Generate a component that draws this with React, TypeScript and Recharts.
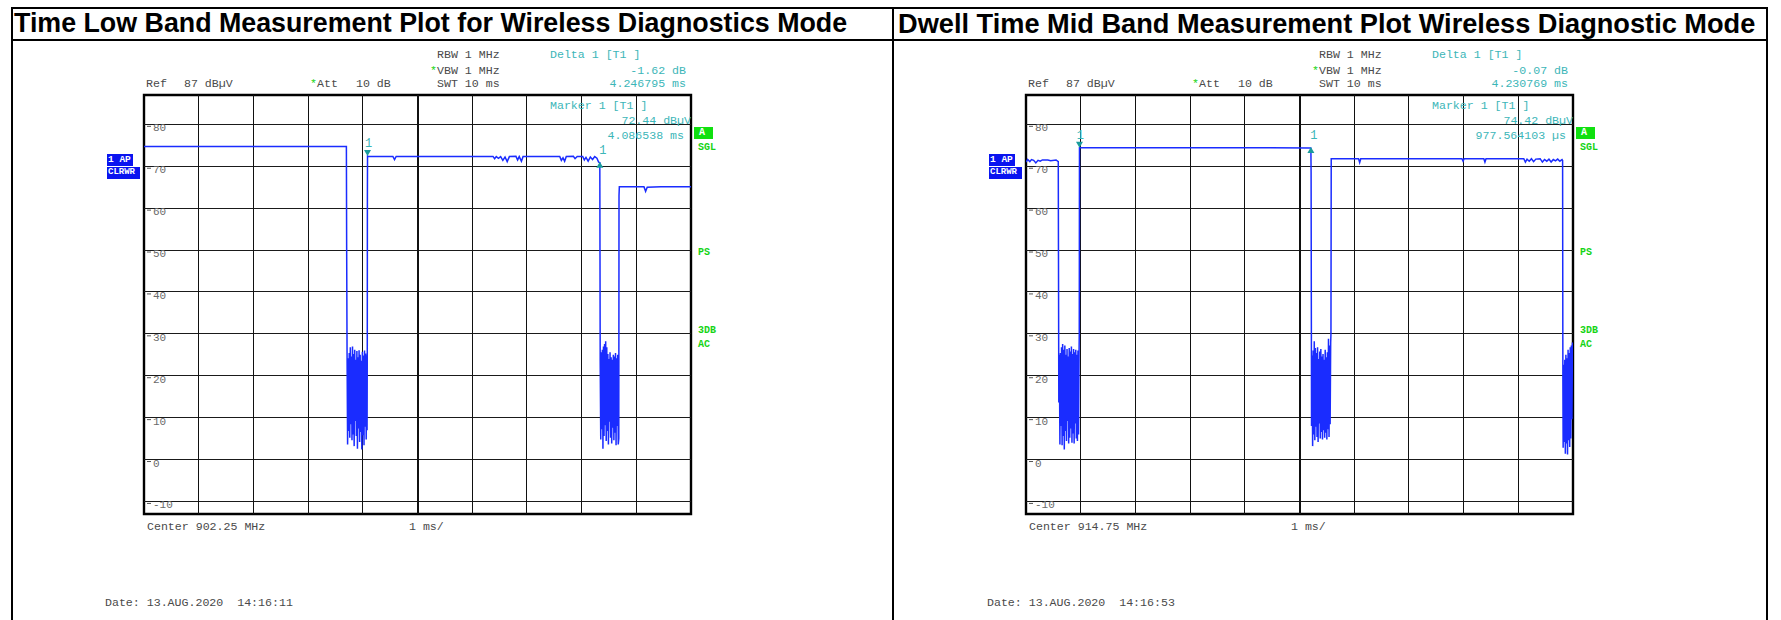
import { LineChart, Line, XAxis, YAxis, ReferenceLine, ReferenceArea, ReferenceDot } from 'recharts';

// sweep: 10 ms, 1 ms/div; level: ref 87 dBµV, 10 dB/div
const timeTicks = [0, 1, 2, 3, 4, 5, 6, 7, 8, 9, 10];
const levelTicks = [80, 70, 60, 50, 40, 30, 20, 10, 0, -10];
const refLevel = 87;
const bottomLevel = -13;

// [ms, dBµV]
const lowBandTrace: [number, number][] = [
  [0, 74.7], [3.7, 74.7], [3.705, 50.5],
  [3.712, 26.0], [3.722, 3.6], [3.732, 24.2], [3.742, 6.8], [3.752, 25.4], [3.762, 5.2],
  [3.772, 26.8], [3.782, 8.4], [3.792, 24.6], [3.802, 4.6], [3.812, 27.0], [3.822, 6.0],
  [3.832, 25.2], [3.842, 3.2], [3.852, 26.2], [3.862, 9.2], [3.872, 23.8], [3.882, 5.6],
  [3.892, 25.9], [3.902, 2.6], [3.912, 24.4], [3.922, 7.4], [3.932, 26.1], [3.942, 4.2],
  [3.952, 25.0], [3.962, 6.6], [3.972, 23.6], [3.982, 2.4], [3.992, 25.7], [4.002, 5.8],
  [4.012, 24.8], [4.022, 3.4], [4.032, 26.0], [4.042, 7.8], [4.052, 25.3], [4.062, 4.8],
  [4.072, 24.9], [4.078, 7.0], [4.082, 26.0], [4.084, 63.0], [4.0865, 72.44],
  [4.1, 72.35], [4.55, 72.35], [4.58, 71.6], [4.61, 72.35], [5.2, 72.35], [6.38, 72.35],
  [6.41, 71.8], [6.44, 72.3], [6.48, 71.9], [6.52, 72.3], [6.56, 71.4], [6.6, 72.2],
  [6.64, 71.1], [6.68, 72.3], [6.8, 72.35], [6.83, 71.5], [6.86, 72.3], [6.9, 71.2],
  [6.93, 72.35], [7.6, 72.35], [7.63, 71.4], [7.66, 72.0], [7.69, 71.2], [7.72, 72.3],
  [7.85, 72.35], [7.88, 71.8], [7.92, 72.35], [8.02, 72.35], [8.05, 71.5], [8.08, 72.1],
  [8.12, 71.2], [8.16, 72.2], [8.2, 71.6], [8.24, 72.3], [8.28, 71.9], [8.31, 71.0],
  [8.333, 70.82],
  [8.34, 23.4], [8.35, 4.8], [8.36, 25.6], [8.37, 7.2], [8.38, 26.2], [8.39, 2.6],
  [8.4, 27.0], [8.41, 5.6], [8.42, 27.6], [8.43, 8.2], [8.44, 28.2], [8.45, 4.4],
  [8.46, 26.8], [8.47, 6.8], [8.48, 25.2], [8.49, 3.6], [8.5, 24.0], [8.51, 9.0],
  [8.52, 25.6], [8.53, 5.2], [8.54, 24.4], [8.55, 3.8], [8.56, 23.8], [8.57, 7.6],
  [8.58, 25.0], [8.59, 4.6], [8.6, 24.6], [8.61, 6.4], [8.62, 25.4], [8.63, 3.4],
  [8.64, 24.2], [8.65, 8.0], [8.66, 25.0], [8.67, 3.6], [8.68, 5.0],
  [8.684, 63.0], [8.69, 65.1], [9.14, 65.1], [9.17, 64.0], [9.2, 65.0], [9.45, 65.1], [10, 65.1],
];

// [ms, dBµV]
const midBandTrace: [number, number][] = [
  [0, 71.0], [0.03, 71.6], [0.07, 71.1], [0.1, 71.6], [0.14, 71.4], [0.18, 70.8],
  [0.22, 71.4], [0.26, 71.2], [0.3, 71.5], [0.4, 71.5], [0.45, 71.3], [0.55, 71.5],
  [0.59, 71.1],
  [0.6, 13.6], [0.61, 25.0], [0.62, 3.6], [0.63, 25.4], [0.64, 8.0], [0.65, 26.8],
  [0.66, 3.4], [0.67, 27.6], [0.68, 5.6], [0.69, 26.2], [0.7, 2.4], [0.71, 27.2],
  [0.72, 6.8], [0.73, 25.0], [0.74, 4.4], [0.75, 26.4], [0.76, 9.2], [0.77, 24.6],
  [0.78, 3.8], [0.79, 26.6], [0.8, 5.2], [0.81, 25.8], [0.82, 7.4], [0.83, 27.0],
  [0.84, 4.0], [0.85, 25.2], [0.86, 6.2], [0.87, 26.4], [0.88, 3.8], [0.89, 25.6],
  [0.9, 8.6], [0.91, 26.2], [0.92, 5.0], [0.93, 25.0], [0.94, 4.4], [0.95, 26.0],
  [0.96, 6.0], [0.97, 25.4], [0.974, 30.0],
  [0.9776, 74.42], [1.0, 74.4], [5.2, 74.38], [5.208, 74.35], [5.212, 68.5],
  [5.22, 8.0], [5.23, 24.8], [5.24, 3.2], [5.25, 26.0], [5.26, 6.0], [5.27, 28.2],
  [5.28, 4.6], [5.29, 26.6], [5.3, 7.8], [5.31, 25.4], [5.32, 5.4], [5.33, 26.8],
  [5.34, 4.2], [5.35, 24.0], [5.36, 8.6], [5.37, 25.8], [5.38, 5.0], [5.39, 26.4],
  [5.4, 6.6], [5.41, 24.6], [5.42, 4.8], [5.43, 25.2], [5.44, 7.0], [5.45, 23.8],
  [5.46, 5.2], [5.47, 26.2], [5.48, 6.4], [5.49, 24.4], [5.5, 4.8], [5.51, 25.6],
  [5.52, 7.2], [5.53, 28.8], [5.54, 5.4], [5.55, 27.2], [5.56, 8.4], [5.57, 27.8],
  [5.575, 30.0],
  [5.58, 71.8], [6.08, 71.8], [6.1, 70.9], [6.12, 71.8], [7.97, 71.8], [7.99, 71.2],
  [8.01, 71.8], [8.37, 71.8], [8.39, 71.0], [8.41, 71.8], [9.1, 71.8], [9.13, 71.0],
  [9.16, 71.7], [9.2, 71.2], [9.24, 71.8], [9.28, 71.1], [9.32, 71.7], [9.4, 71.8],
  [9.44, 71.0], [9.48, 71.6], [9.52, 71.2], [9.56, 71.7], [9.6, 71.0], [9.64, 71.6],
  [9.68, 71.3], [9.72, 71.7], [9.76, 71.2], [9.8, 71.6], [9.81, 71.4],
  [9.815, 19.0], [9.82, 2.8], [9.83, 22.6], [9.84, 4.2], [9.85, 23.8], [9.86, 1.4],
  [9.87, 25.0], [9.88, 3.8], [9.89, 24.2], [9.9, 1.2], [9.91, 26.2], [9.92, 4.6],
  [9.93, 25.4], [9.94, 3.0], [9.95, 26.8], [9.96, 5.0], [9.97, 27.2], [9.98, 9.6],
  [9.99, 27.9], [10, 24.0],
];

const lowBandMarker: [number, number] = [4.086538, 72.44];
const lowBandDelta: [number, number] = [8.333333, 70.82];
const midBandMarker: [number, number] = [0.977564, 74.42];
const midBandDelta: [number, number] = [5.208333, 74.35];

const PLOT_LEFT = 144;
const PLOT_TOP = 95;
const PLOT_W = 547;
const PLOT_H = 419;
const PAD = 6;

const MONO = "'Liberation Mono', 'DejaVu Sans Mono', monospace";
const TEAL = '#3cb6b8';
const GREEN = '#16d416';
const GRAY = '#4a4a4a';

function LevelTick(props: any) {
  const { x, y, payload } = props;
  return (
    <g>
      <line x1={x + 3} x2={x + 7} y1={y + 2} y2={y + 2} stroke="#555" strokeWidth={1} />
      <text x={x + 9} y={y + 7} fill="#6a6a6a" fontSize={11} fontFamily={MONO} textAnchor="start">
        {payload.value}
      </text>
    </g>
  );
}

function MarkerGlyph(props: any) {
  const { cx, cy, down } = props;
  const tri = down
    ? `${cx - 3.5},${cy - 6} ${cx + 3.5},${cy - 6} ${cx},${cy}`
    : `${cx - 3.5},${cy + 5} ${cx + 3.5},${cy + 5} ${cx},${cy - 1}`;
  return (
    <g>
      <polygon points={tri} fill="#1a9c9c" />
      <text x={cx + (down ? 1 : 3)} y={cy - 9} fill={TEAL} fontSize={12} fontFamily={MONO} textAnchor="middle">
        1
      </text>
    </g>
  );
}

function TracePlot({ trace, marker, delta }: { trace: [number, number][]; marker: [number, number]; delta: [number, number] }) {
  const data = trace.map(([t, v]) => ({ t, v }));
  return (
    <LineChart
      width={PLOT_W + PAD * 2}
      height={PLOT_H + PAD * 2}
      data={data}
      margin={{ top: PAD, right: PAD, bottom: PAD, left: PAD - 1 }}
    >
      <XAxis type="number" dataKey="t" domain={[0, 10]} ticks={timeTicks} hide allowDataOverflow />
      <YAxis
        type="number"
        domain={[bottomLevel, refLevel]}
        ticks={levelTicks}
        width={1}
        axisLine={false}
        tickLine={false}
        tickSize={0}
        tickMargin={0}
        interval={0}
        tick={<LevelTick />}
        allowDataOverflow
      />
      {levelTicks.map((v) => (
        <ReferenceLine key={'h' + v} y={v} stroke="#1a1a1a" strokeWidth={1} shapeRendering="crispEdges" />
      ))}
      {timeTicks.slice(1, -1).map((t) => (
        <ReferenceLine
          key={'v' + t}
          x={t}
          stroke="#111"
          strokeWidth={t === 5 ? 2 : 1}
          shapeRendering="crispEdges"
        />
      ))}
      <ReferenceArea
        x1={0}
        x2={10}
        y1={bottomLevel}
        y2={refLevel}
        fill="none"
        fillOpacity={0}
        stroke="#000"
        strokeWidth={2.4}
      />
      <Line type="linear" dataKey="v" stroke="#1a2cff" strokeWidth={1.5} dot={false} isAnimationActive={false} />
      <ReferenceDot x={marker[0]} y={marker[1]} r={0} shape={(p: any) => <MarkerGlyph {...p} down />} />
      <ReferenceDot x={delta[0]} y={delta[1]} r={0} shape={(p: any) => <MarkerGlyph {...p} />} />
    </LineChart>
  );
}

function Txt({ x, y, children, color = GRAY, right = false, size = 11.6, bold = false, family = MONO }: any) {
  return (
    <div
      style={{
        position: 'absolute',
        left: x,
        top: y - 6,
        transform: right ? 'translateX(-100%)' : undefined,
        whiteSpace: 'pre',
        fontFamily: family,
        fontSize: size,
        lineHeight: `${size}px`,
        fontWeight: bold ? 700 : 400,
        color,
      }}
    >
      {children}
    </div>
  );
}

function Panel({ dx, center, date, deltaDb, deltaTime, markerLevel, markerTime, trace, marker, delta }: any) {
  return (
    <>
      <Txt x={dx + 146} y={84}>Ref</Txt>
      <Txt x={dx + 184} y={84}>87 dBµV</Txt>
      <Txt x={dx + 310} y={84} color={GREEN}>*</Txt>
      <Txt x={dx + 317} y={84}>Att</Txt>
      <Txt x={dx + 356} y={84}>10 dB</Txt>
      <Txt x={dx + 437} y={55}>RBW 1 MHz</Txt>
      <Txt x={dx + 430} y={70.5} color={GREEN}>*</Txt>
      <Txt x={dx + 437} y={70.5}>VBW 1 MHz</Txt>
      <Txt x={dx + 437} y={84}>SWT 10 ms</Txt>
      <Txt x={dx + 550} y={55} color={TEAL}>Delta 1 [T1 ]</Txt>
      <Txt x={dx + 686} y={70.5} color={TEAL} right>{deltaDb}</Txt>
      <Txt x={dx + 686} y={84} color={TEAL} right>{deltaTime}</Txt>
      <div style={{ position: 'absolute', left: dx + PLOT_LEFT - PAD, top: PLOT_TOP - PAD }}>
        <TracePlot trace={trace} marker={marker} delta={delta} />
      </div>
      <Txt x={dx + 550} y={106} color={TEAL}>Marker 1 [T1 ]</Txt>
      <Txt x={dx + 691} y={121} color={TEAL} right>{markerLevel}</Txt>
      <Txt x={dx + 684} y={135.5} color={TEAL} right>{markerTime}</Txt>
      <Txt x={dx + 147} y={527}>{center}</Txt>
      <Txt x={dx + 409} y={527}>1 ms/</Txt>
      <Txt x={dx + 105} y={603}>{date}</Txt>
      <div style={{ position: 'absolute', left: dx + 107, top: 154, width: 26, height: 12, background: '#0a14f0' }} />
      <div style={{ position: 'absolute', left: dx + 107, top: 167, width: 33, height: 12, background: '#0a14f0' }} />
      <Txt x={dx + 108} y={160.5} color="#fff" size={9.5} bold>1 AP</Txt>
      <Txt x={dx + 108} y={173.5} color="#fff" size={9} bold>CLRWR</Txt>
      <div style={{ position: 'absolute', left: dx + 694, top: 127, width: 19, height: 12, background: '#10e010' }} />
      <Txt x={dx + 699} y={133.5} color="#fff" size={10} bold>A</Txt>
      <Txt x={dx + 698} y={149} color={GREEN} size={10} bold>SGL</Txt>
      <Txt x={dx + 698} y={254} color={GREEN} size={10} bold>PS</Txt>
      <Txt x={dx + 698} y={332} color={GREEN} size={10} bold>3DB</Txt>
      <Txt x={dx + 698} y={346} color={GREEN} size={10} bold>AC</Txt>
    </>
  );
}

const rule = (l: number, t: number, w: number, h: number) => (
  <div style={{ position: 'absolute', left: l, top: t, width: w, height: h, background: '#000' }} />
);

export default function App() {
  return (
    <div style={{ position: 'absolute', left: 0, top: 0, width: 1781, height: 620, background: '#fff', overflow: 'hidden' }}>
      {rule(11, 7, 1757, 2)}
      {rule(11, 39, 1757, 2)}
      {rule(11, 7, 2, 613)}
      {rule(892, 7, 2, 613)}
      {rule(1766, 7, 2, 613)}
      <div
        style={{
          position: 'absolute',
          left: 14,
          top: 10,
          fontFamily: "'Liberation Sans', Arial, sans-serif",
          fontWeight: 700,
          fontSize: 26.8,
          lineHeight: '26.8px',
          whiteSpace: 'nowrap',
        }}
      >
        Time Low Band Measurement Plot for Wireless Diagnostics Mode
      </div>
      <div
        style={{
          position: 'absolute',
          left: 898,
          top: 10,
          fontFamily: "'Liberation Sans', Arial, sans-serif",
          fontWeight: 700,
          fontSize: 27.2,
          lineHeight: '27.2px',
          whiteSpace: 'nowrap',
        }}
      >
        Dwell Time Mid Band Measurement Plot Wireless Diagnostic Mode
      </div>
      <Panel
        dx={0}
        center="Center 902.25 MHz"
        date="Date: 13.AUG.2020  14:16:11"
        deltaDb="-1.62 dB"
        deltaTime="4.246795 ms"
        markerLevel="72.44 dBµV"
        markerTime="4.086538 ms"
        trace={lowBandTrace}
        marker={lowBandMarker}
        delta={lowBandDelta}
      />
      <Panel
        dx={882}
        center="Center 914.75 MHz"
        date="Date: 13.AUG.2020  14:16:53"
        deltaDb="-0.07 dB"
        deltaTime="4.230769 ms"
        markerLevel="74.42 dBµV"
        markerTime="977.564103 µs"
        trace={midBandTrace}
        marker={midBandMarker}
        delta={midBandDelta}
      />
    </div>
  );
}
